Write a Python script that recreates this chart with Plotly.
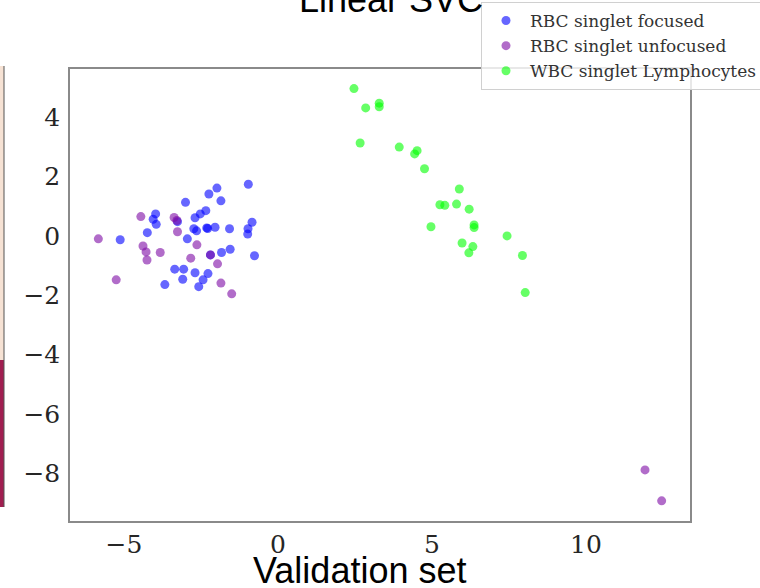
import plotly.graph_objects as go

# 2-D projection of the validation set, one list per class
focused_x = [-0.96, -1.98, -2.24, -1.85, -3.00, -2.34, -2.52, -2.69, -3.97, -4.05,
             -3.95, -3.26, -0.84, -0.97, -0.98, -4.24, -2.73, -2.64, -2.31, -2.04,
             -1.57, -2.94, -5.12, -0.76, -1.55, -1.83, -2.19, -3.35, -3.06, -2.69,
             -2.27, -3.09, -2.43, -3.67, -2.57, -2.28]
focused_y = [1.74, 1.61, 1.41, 1.18, 1.13, 0.85, 0.74, 0.61, 0.74, 0.56,
             0.39, 0.48, 0.46, 0.24, 0.06, 0.11, 0.24, 0.17, 0.27, 0.29,
             0.24, -0.10, -0.13, -0.67, -0.45, -0.56, -0.64, -1.12, -1.12, -1.24,
             -1.27, -1.46, -1.48, -1.64, -1.71, 0.25]

unfocused_x = [-4.45, -3.37, -3.26, -5.83, -4.38, -4.28, -3.82, -4.25, -2.63, -2.83,
               -1.96, -2.19, -5.25, -1.85, -1.50, 11.92, 12.46, -3.28]
unfocused_y = [0.65, 0.62, 0.14, -0.10, -0.34, -0.54, -0.56, -0.81, -0.30, -0.75,
               -0.94, -0.64, -1.48, -1.59, -1.95, -7.88, -8.92, 0.52]

lympho_x = [2.47, 2.85, 3.29, 3.29, 2.67, 3.94, 4.52, 4.44, 4.76, 5.89,
            5.26, 5.42, 5.80, 6.21, 4.97, 6.37, 6.37, 7.44, 5.98, 6.33,
            6.20, 7.94, 8.03]
lympho_y = [4.96, 4.31, 4.47, 4.35, 3.13, 2.99, 2.87, 2.76, 2.26, 1.58,
            1.05, 1.03, 1.07, 0.90, 0.31, 0.37, 0.28, 0.00, -0.24, -0.36,
            -0.57, -0.66, -1.91]

series = [
    ("RBC singlet focused", focused_x, focused_y, "rgb(0,0,255)"),
    ("RBC singlet unfocused", unfocused_x, unfocused_y, "rgb(125,10,165)"),
    ("WBC singlet Lymphocytes", lympho_x, lympho_y, "rgb(0,255,0)"),
]

x_ticks = [-5, 0, 5, 10]
y_ticks = [-8, -6, -4, -2, 0, 2, 4]

fig = go.Figure()
for name, xs, ys, color in series:
    fig.add_trace(go.Scatter(
        x=xs, y=ys, mode="markers", name=name,
        marker=dict(color=color, opacity=0.6, size=9, line=dict(width=0)),
    ))

tick_font = dict(family="DejaVu Serif", size=25, color="#262626")
axis_common = dict(
    showgrid=False, zeroline=False, showline=True, mirror=True,
    linecolor="#8a8a8a", linewidth=1.5, ticks="", tickfont=tick_font,
    automargin=False,
)

plot_l, plot_r, plot_t, plot_b = 70, 690, 69, 521


def px_x(p):
    return (p - plot_l) / (plot_r - plot_l)


def px_y(p):
    return 1 - (p - plot_t) / (plot_b - plot_t)


fig.update_layout(
    width=760, height=588,
    margin=dict(l=plot_l, r=760 - plot_r, t=plot_t, b=588 - plot_b, autoexpand=False),
    paper_bgcolor="white", plot_bgcolor="white",
    showlegend=True,
    legend=dict(
        x=px_x(481), y=px_y(2), xanchor="left", yanchor="top",
        font=dict(family="DejaVu Serif", size=17, color="#333333"),
        bgcolor="rgba(255,255,255,0.8)", bordercolor="#d0d0d0", borderwidth=1,
        itemwidth=38,
    ),
    xaxis=dict(range=[-6.75, 13.38], tickvals=x_ticks, ticklabelstandoff=0, **axis_common),
    yaxis=dict(range=[-9.6, 5.62], tickvals=y_ticks, ticklabelstandoff=3, **axis_common),
)

# title above the plot and x caption below
fig.add_annotation(
    text="Linear SVC", xref="paper", yref="paper",
    x=px_x(391), y=px_y(22),
    xanchor="center", yanchor="bottom", showarrow=False,
    font=dict(family="Liberation Sans", size=36, color="black"),
)
fig.add_annotation(
    text="Validation set", xref="paper", yref="paper",
    x=px_x(359), y=px_y(593),
    xanchor="center", yanchor="bottom", showarrow=False,
    font=dict(family="Liberation Sans", size=36, color="black"),
)

# edge of the neighbouring colour bar on the left
fig.add_shape(type="rect", xref="paper", yref="paper",
              x0=px_x(-5), x1=px_x(4), y0=px_y(360), y1=px_y(66),
              fillcolor="rgb(246,226,212)", line=dict(width=0), layer="below")
fig.add_shape(type="rect", xref="paper", yref="paper",
              x0=px_x(-5), x1=px_x(4), y0=px_y(507), y1=px_y(360),
              fillcolor="rgb(160,30,80)", line=dict(width=0), layer="below")
fig.add_shape(type="line", xref="paper", yref="paper",
              x0=px_x(4), x1=px_x(4), y0=px_y(507), y1=px_y(66),
              line=dict(color="#555555", width=1))

fig.write_html("out.html")
